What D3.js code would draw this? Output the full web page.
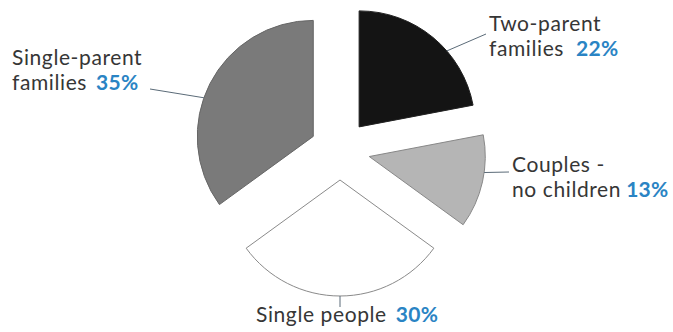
<!DOCTYPE html>
<html lang="en">
<head>
<meta charset="UTF-8">
<title>Household types</title>
<script src="https://cdn.jsdelivr.net/npm/d3@7/dist/d3.min.js"></script>
<style>
   body { margin: 0; background: #fff; }
   #chart text { font-family: Lato, sans-serif; font-size: 21px; letter-spacing: 0.6px; fill: #363636; }
   #chart .pct { fill: #2a84c4; font-weight: bold; letter-spacing: 0.3px; }
</style>
</head>
<body>
<div id="chart"></div>
<script>
   // data
   var categories = ["Two-parent families", "Couples - no children", "Single people", "Single-parent families"];
   var values = [22, 13, 30, 35];
   var labelLines = [["Two-parent", "families"], ["Couples -", "no children"], ["Single people"], ["Single-parent", "families"]];

   // layout
   var width = 673, height = 332;
   var cx = 340, cy = 150, radius = 116, explode = 30;
   var lineGap = 25.4;
   var fills = ["#141414", "#b5b5b5", "#ffffff", "#7a7a7a"];
   var strokes = ["#222", "#888", "#8a8a8a", "#666"];
   // where the leader leaves the slice (fraction of slice angle) and where the text sits
   var labelLayout = [
      { t: 0.62, x: 489, y: 31, lx: 486, ly: 34, pctDx: 12 },
      { t: 0.40, x: 512, y: 172, lx: 509, ly: 172, pctDx: 5 },
      { t: 0.50, x: 256, y: 322, lx: null, ly: 307, pctDx: 9 },
      { t: 0.44, x: 12, y: 65, lx: 150, ly: 89, pctDx: 9 }
   ];

   var svg = d3.select("#chart").append("svg")
      .attr("width", width).attr("height", height);

   var pie = d3.pie().sort(null).value(function(d) { return d; });
   var arcs = pie(values);
   var arc = d3.arc().innerRadius(0).outerRadius(radius);

   var g = svg.append("g").attr("transform", "translate(" + cx + "," + cy + ")");

   function offset(d) {
      var a = (d.startAngle + d.endAngle) / 2;
      return [Math.sin(a) * explode, -Math.cos(a) * explode];
   }

   g.selectAll(".slice")
      .data(arcs)
      .enter().append("path")
      .attr("class", "slice")
      .attr("d", arc)
      .attr("transform", function(d) { var o = offset(d); return "translate(" + o[0] + "," + o[1] + ")"; })
      .attr("fill", function(d, i) { return fills[i]; })
      .attr("stroke", function(d, i) { return strokes[i]; })
      .attr("stroke-width", 1);

   // leader lines
   arcs.forEach(function(d, i) {
      var L = labelLayout[i];
      var o = offset(d);
      var a = d.startAngle + L.t * (d.endAngle - d.startAngle);
      var x1 = cx + o[0] + Math.sin(a) * radius;
      var y1 = cy + o[1] - Math.cos(a) * radius;
      var x2 = L.lx === null ? x1 : L.lx;
      svg.append("line")
         .attr("x1", x1).attr("y1", y1)
         .attr("x2", x2).attr("y2", L.ly)
         .attr("stroke", "#5b6b78").attr("stroke-width", 1);
   });

   // labels: one text element per line, percentage on the last line
   arcs.forEach(function(d, i) {
      var L = labelLayout[i];
      var lines = labelLines[i];
      lines.forEach(function(line, j) {
         var text = svg.append("text")
            .attr("x", L.x)
            .attr("y", L.y + j * lineGap)
            .text(line);
         if (j === lines.length - 1) {
            text.append("tspan").attr("class", "pct").attr("dx", L.pctDx).text(values[i] + "%");
         }
      });
   });
</script>
</body>
</html>
